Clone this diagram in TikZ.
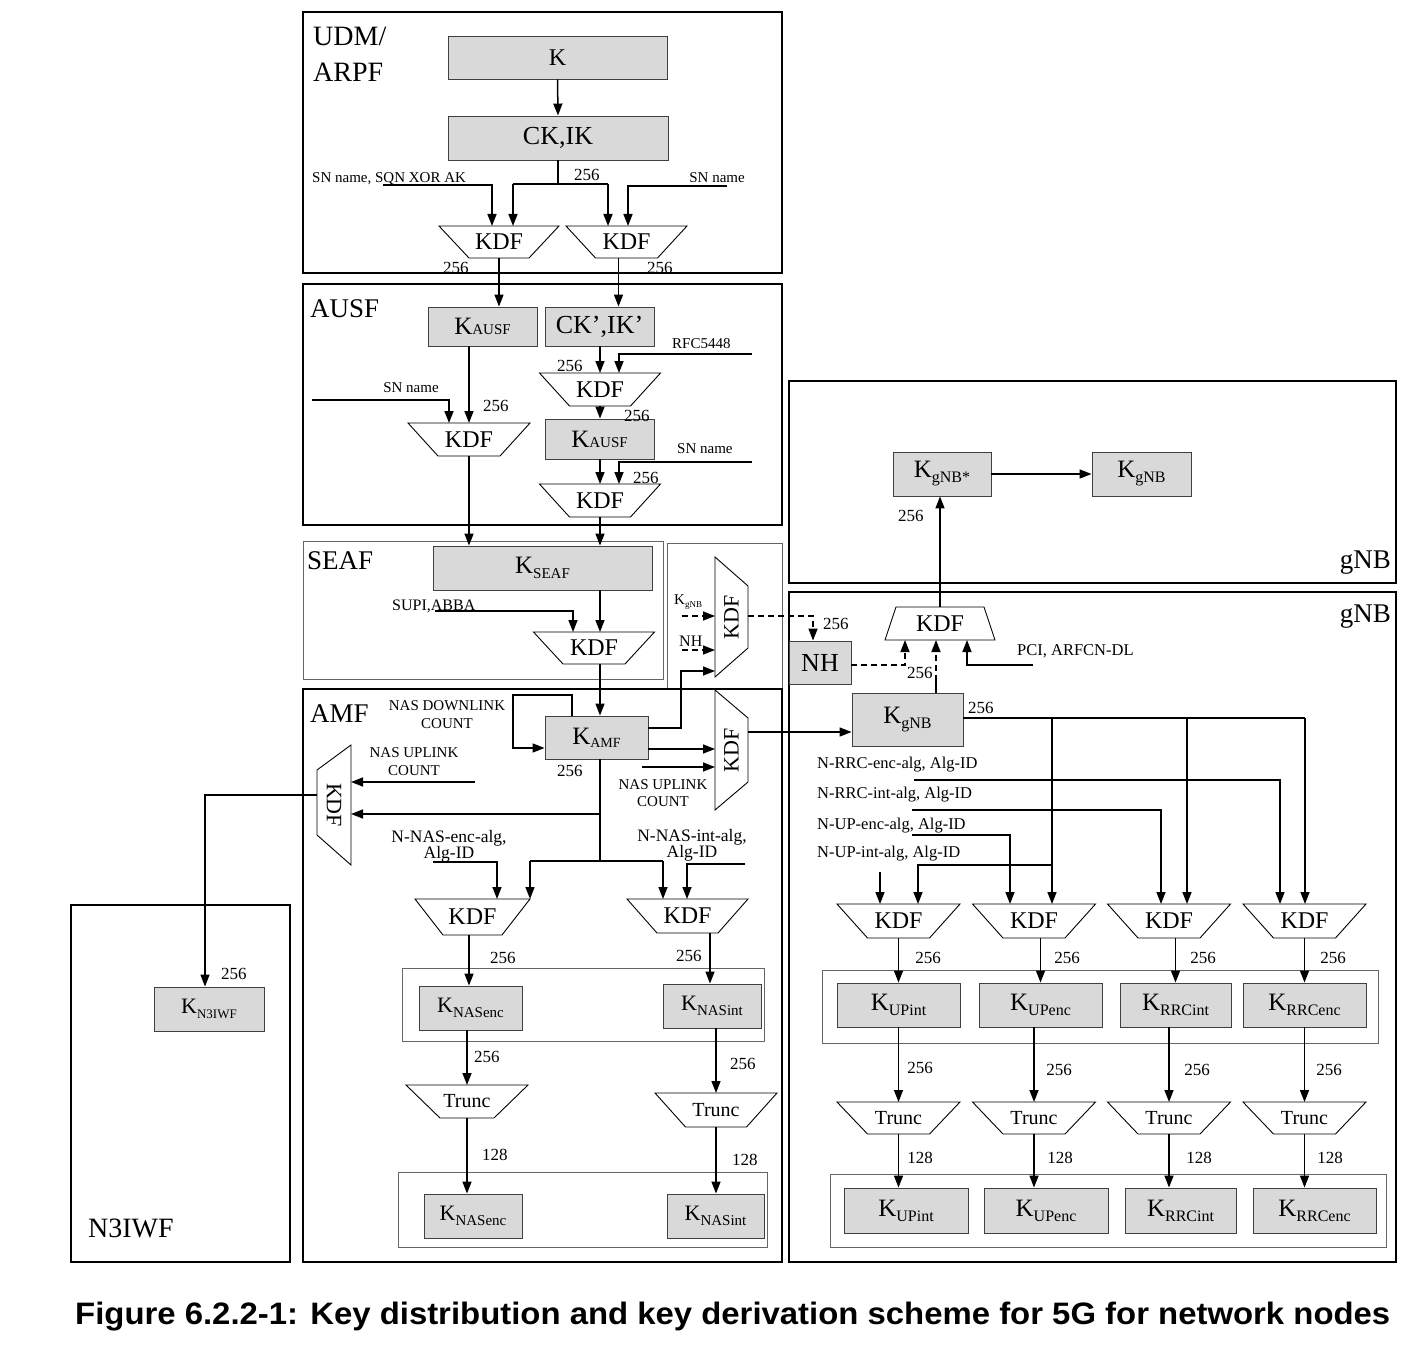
\documentclass[tikz,border=0pt]{standalone}
\usepackage{graphicx}
\usepackage{fontspec}
\setmainfont{Liberation Serif}
\newfontfamily\capfont{Liberation Sans}
\usetikzlibrary{arrows.meta}
\definecolor{keygray}{HTML}{D9D9D9}
\newcommand\ksb[2][15]{\raisebox{-5pt}{\fontsize{#1}{#1}\selectfont #2}}
\newcommand\ksc[2][15]{{\fontsize{#1}{#1}\selectfont #2}}
% name, cx, ytop, halftop, halfbottom, height, text
\newcommand\kdftrap[7]{%
  \draw[trapline] ({#2-#4},#3) -- ({#2+#4},#3) -- ({#2+#5},{#3+#6}) -- ({#2-#5},{#3+#6}) -- cycle;
  \node[kdftxt] (#1) at (#2,{#3+#6/2}) {#7};
  \coordinate (#1-t) at (#2,#3);
  \coordinate (#1-b) at (#2,{#3+#6});
}
% name, xlong, xshort, ylong1, ylong2, yshort1, yshort2, rotate
\newcommand\kdfvtrap[8]{%
  \draw[trapline] (#2,#4) -- (#3,#6) -- (#3,#7) -- (#2,#5) -- cycle;
  \node[kdftxt, font=\fontsize{22}{24}\selectfont, rotate=#8] (#1) at ({(#2+#3)/2},{(#4+#5)/2}) {KDF};
}
\tikzset{
  outer/.style={draw, line width=2.4pt},
  thinbox/.style={draw=black!60, line width=0.9pt},
  keybox/.style={draw=black!75, fill=keygray, line width=0.9pt, inner sep=0pt, font=\fontsize{25}{28}\selectfont},
  trapline/.style={draw, line width=0.9pt},
  conn/.style={line width=1.5pt},
  arr/.style={line width=1.5pt, -{Triangle[length=12pt,width=9pt]}},
  darr/.style={arr, dash pattern=on 6pt off 4pt},
  kdftxt/.style={font=\fontsize{24}{26}\selectfont, inner sep=0pt},
  trtxt/.style={font=\fontsize{20}{22}\selectfont},
  lbl/.style={font=\fontsize{15}{17}\selectfont, inner sep=0pt},
  num/.style={font=\fontsize{17}{19}\selectfont, inner sep=0pt, anchor=base west},
  algA/.style={font=\fontsize{17.5}{16}\selectfont, inner sep=0pt, anchor=north, align=center},
  algG/.style={font=\fontsize{16.5}{19}\selectfont, inner sep=0pt, anchor=base west},
  big/.style={font=\fontsize{27}{30}\selectfont, inner sep=0pt, anchor=base west},
}
\begin{document}
\begin{tikzpicture}[x=1pt,y=-1pt]
\fill[white] (0,0) rectangle (1424,1348);
\useasboundingbox (0,0) rectangle (1424,1348);

%% ---------------- UDM/ARPF ----------------
\draw[outer] (303,12) rectangle (782,273);
\node[big, font=\fontsize{28}{30}\selectfont] (udm) at (313,46) {UDM/};
\node[big, font=\fontsize{28}{30}\selectfont] (arpf) at (313,82) {ARPF};
\node[keybox, minimum width=219pt, minimum height=43pt, font=\fontsize{24}{26}\selectfont] (k) at (557.5,57.5) {K};
\node[keybox, minimum width=220pt, minimum height=44pt, font=\fontsize{26}{28}\selectfont] (ckik) at (558,138) {CK,IK};
\draw[arr] (k.south) -- (ckik.north);
\kdftrap{kdfa}{499}{226}{60}{30}{32}{KDF}
\kdftrap{kdfb}{626.5}{226}{60.5}{31}{32}{KDF}
\coordinate (j1) at (558,184);
\draw[conn] (ckik.south) -- (j1);
\draw[conn] (513,184) -- (608,184);
\draw[arr] (513,184) -- (513,226);
\draw[arr] (608,184) -- (608,226);
\node[lbl, anchor=base west] (l1) at (312,183) {SN name, SQN XOR AK};
\draw[arr] (383,185) -| (492,226);
\node[lbl, anchor=base east] (l2) at (745,183) {SN name};
\draw[arr] (727,186) -| (628,226);
\node[num] at (574,181) {256};
\node[num] at (443,274) {256};
\node[num] at (647,274) {256};

%% ---------------- AUSF ----------------
\draw[outer] (303,284) rectangle (782,525);
\node[big] at (310,317) {AUSF};
\node[keybox, minimum width=109pt, minimum height=39pt] (kausfa) at (482.5,326.5) {K\ksc{AUSF}};
\node[keybox, minimum width=109pt, minimum height=39pt, font=\fontsize{26}{28}\selectfont] (ckikp) at (599.5,326.5) {CK',IK'};
\node[keybox, minimum width=109pt, minimum height=40pt] (kausfb) at (599.5,439) {K\ksc{AUSF}};
\draw[arr] (kdfa-b) -- (kdfa-b |- kausfa.north);
\draw[arr] ([xshift=-8pt]kdfb-b) -- ([xshift=-8pt]kdfb-b |- ckikp.north);

\kdftrap{kdfc}{469}{423}{61}{31}{33}{KDF}
\draw[arr] (kdfc-t |- kausfa.south) -- (kdfc-t);
\node[lbl, anchor=base] at (411,392) {SN name};
\draw[arr] (312,400) -| (449,423);
\node[num] at (483,411) {256};

\kdftrap{kdfd}{600}{373}{60.5}{30.5}{33}{KDF}
\draw[arr] (kdfd-t |- ckikp.south) -- (kdfd-t);
\node[num] at (557,371) {256};
\node[lbl, anchor=base west] at (672,348) {RFC5448};
\draw[arr] (752,354) -| (619,373);
\draw[arr] (kdfd-b) -- (kdfd-b |- kausfb.north);
\node[num] at (624,421) {256};

\kdftrap{kdfe}{600}{484}{60.5}{30.5}{33}{KDF}
\node[lbl, anchor=base west] at (677,453) {SN name};
\draw[arr] (752,462) -| (619,484);
\draw[arr] (kdfe-t |- kausfb.south) -- (kdfe-t);
\node[num] at (633,483) {256};

%% ---------------- SEAF ----------------
\draw[thinbox] (303,541) rectangle (663,679);
\node[big] at (307,569) {SEAF};
\node[keybox, minimum width=219pt, minimum height=44pt] (kseaf) at (542.5,568) {K\ksb{SEAF}};
\draw[arr] (kdfe-b) -- (kdfe-b |- kseaf.north);
\draw[arr] (kdfc-b) -- (kdfc-b |- kseaf.north);
\kdftrap{kdff}{594}{632}{60.5}{31}{32}{KDF}
\draw[arr] ([xshift=57.5pt]kseaf.south) -- ([xshift=57.5pt]kseaf.south |- kdff-t);
\node[lbl, anchor=base west, font=\fontsize{16}{18}\selectfont] at (392,610) {SUPI,ABBA};
\draw[arr] (435,611) -| (573,632);

%% ---------------- middle KDF box ----------------
\draw[thinbox] (667,543) rectangle (782,689);
\kdfvtrap{kdfh}{715}{748}{557}{677}{586}{648}{90}
\node[lbl, anchor=base west] (lkg) at (674,604) {K\raisebox{-3pt}{\fontsize{9}{9}\selectfont gNB}};
\node[lbl, anchor=base west, font=\fontsize{16}{18}\selectfont] (lnh) at (679,646) {NH};
\draw[darr] (682,616) -- (715,616);
\draw[darr] (682,650) -- (715,650);

%% ---------------- AMF ----------------
\draw[outer] (303,689) rectangle (782,1262);
\node[big] at (310,722) {AMF};
\node[keybox, minimum width=103pt, minimum height=43pt] (kamf) at (596.5,737.5) {K\raisebox{-3pt}{\fontsize{14}{14}\selectfont AMF}};
\draw[arr] ([xshift=6pt]kdff-b) -- ([xshift=6pt]kdff-b |- kamf.north);
\draw[arr] (kamf.east |- 0,728) -- (681,728) -- (681,671) -- (715,671);

\draw[arr] ([xshift=-24.5pt]kamf.north) -- (572,695) -- (513,695) -- (513,748) -- (kamf.west |- 0,748);
\node[lbl, anchor=north, align=center, font=\fontsize{15}{18}\selectfont] at (447,700) {NAS DOWNLINK\\COUNT};
\node[num] at (557,776) {256};

\kdfvtrap{kdfi}{715}{748}{690}{810}{718}{782}{90}
\draw[arr] (kamf.east |- 0,749) -- (715,749);
\draw[arr] (642,767) -- (715,767);
\node[lbl, anchor=north, align=center, font=\fontsize{15}{17}\selectfont] at (663,779) {NAS UPLINK\\COUNT};

\kdfvtrap{kdfg}{351}{317}{745}{865}{770}{835}{-90}
\node[lbl, anchor=north, align=center, font=\fontsize{15}{18}\selectfont] at (414,747) {NAS UPLINK\\COUNT};
\draw[arr] (475,782) -- (351,782);
\coordinate (jamf) at (600,861);
\draw[conn] ([xshift=3.5pt]kamf.south) -- (jamf);
\draw[conn] (530,861) -- (663,861);
\draw[arr] (530,861) -- (530,899);
\draw[arr] (663,861) -- (663,899);
\draw[arr] (600,814) -- (351,814);

\node[algA] at (449,830) {N-NAS-enc-alg,\\Alg-ID};
\draw[arr] (433,862) -| (497,899);
\node[algA] at (692,829) {N-NAS-int-alg,\\Alg-ID};
\draw[arr] (745,864) -| (687,899);

\kdftrap{kdfj}{472.5}{899}{57.5}{29.5}{36}{KDF}
\kdftrap{kdfk}{687.5}{899}{60.5}{30.5}{34}{KDF}
\draw[thinbox] (402,968) rectangle (764,1041);
\node[keybox, minimum width=103pt, minimum height=44pt, font=\fontsize{22}{24}\selectfont] (knasenca) at (470.5,1008) {K\ksb[15]{NASenc}};
\node[keybox, minimum width=98pt, minimum height=44pt, font=\fontsize{22}{24}\selectfont] (knasinta) at (712,1006) {K\ksb[15]{NASint}};
\draw[arr] ([xshift=-3.5pt]kdfj-b) -- ([xshift=-3.5pt]kdfj-b |- knasenca.north);
\draw[arr] ([xshift=22.5pt]kdfk-b) -- ([xshift=22.5pt]kdfk-b |- knasinta.north);
\node[num] at (490,963) {256};
\node[num] at (676,961) {256};

\kdftrap{trl}{467}{1085}{61}{27}{33}{\fontsize{20}{22}\selectfont Trunc}
\kdftrap{trr}{716}{1093}{61}{30.5}{34}{\fontsize{20}{22}\selectfont Trunc}
\draw[arr] (knasenca.south -| trl-t) -- (trl-t);
\draw[arr] (knasinta.south -| trr-t) -- (trr-t);
\node[num] at (474,1062) {256};
\node[num] at (730,1069) {256};
\draw[thinbox] (398,1172) rectangle (767,1247);
\node[keybox, minimum width=98pt, minimum height=44pt, font=\fontsize{22}{24}\selectfont] (knasencb) at (473,1216) {K\ksb[15]{NASenc}};
\node[keybox, minimum width=97pt, minimum height=44pt, font=\fontsize{22}{24}\selectfont] (knasintb) at (715.5,1216) {K\ksb[15]{NASint}};
\draw[arr] (trl-b) -- (trl-b |- knasencb.north);
\draw[arr] (trr-b) -- (trr-b |- knasintb.north);
\node[num] at (482,1160) {128};
\node[num] at (732,1165) {128};

%% ---------------- N3IWF ----------------
\draw[outer] (71,905) rectangle (290,1262);
\node[big, font=\fontsize{28}{30}\selectfont] at (88,1237) {N3IWF};
\node[keybox, minimum width=110pt, minimum height=44pt, font=\fontsize{22}{24}\selectfont] (kn3) at (209,1009) {K\ksb[13]{N3IWF}};
\draw[arr] (317,795) -- (205,795) -- (kn3.north -| 205,0);
\node[num] at (221,979) {256};

%% ---------------- gNB (top) ----------------
\draw[outer] (789,381) rectangle (1396,583);
\node[big, anchor=base east] at (1391,568) {gNB};
\node[keybox, minimum width=98pt, minimum height=44pt] (kgnbs) at (942,474) {K\ksb[16]{gNB*}};
\node[keybox, minimum width=99pt, minimum height=44pt] (kgnbt) at (1141.5,474) {K\ksb[16]{gNB}};
\draw[arr] (kgnbs) -- (kgnbt);
\node[num] at (898,521) {256};

%% ---------------- gNB (bottom) ----------------
\draw[outer] (789,592) rectangle (1396,1262);
\node[big, anchor=base east] at (1391,622) {gNB};
\kdftrap{kdfu}{940}{607}{44}{55}{33}{KDF}
\draw[arr] (kdfu-t) -- (kdfu-t |- kgnbs.south);
\node[keybox, minimum width=62pt, minimum height=43pt, font=\fontsize{26}{28}\selectfont] (knh) at (820,662.5) {NH};
\node[keybox, minimum width=111pt, minimum height=53pt] (kgnb) at (907.5,719.5) {K\ksb[16]{gNB}};
\draw[darr] (748,616) -| ([xshift=-7pt]knh.north);
\node[num] at (823,629) {256};
\draw[arr] (748,732) -- (kgnb.west |- 0,732);
\draw[darr] (knh.east |- 0,665) -| (905,640);
\node[num] at (907,678) {256};
\draw[conn] (kgnb.north -| 936,0) -- (936,681);
\draw[darr] (936,681) -- (936,640);
\draw[arr] (1033,665) -| (967,640);
\node[lbl, anchor=base west, font=\fontsize{16.5}{18}\selectfont] at (1017,655) {PCI, ARFCN-DL};
\node[num] at (968,713) {256};

\draw[conn] (kgnb.east |- 0,718) -- (1305,718);
\draw[arr] (1052,718) -- (1052,904);
\draw[arr] (1187,718) -- (1187,904);
\draw[arr] (1305,718) -- (1305,904);
\node[algG] at (817,768) {N-RRC-enc-alg, Alg-ID};
\draw[arr] (914,780) -| (1280,904);
\node[algG] at (817,798) {N-RRC-int-alg, Alg-ID};
\draw[arr] (912,810) -| (1161,904);
\node[algG] at (817,829) {N-UP-enc-alg, Alg-ID};
\draw[arr] (912,835) -| (1010,904);
\node[algG] at (817,857) {N-UP-int-alg, Alg-ID};
\draw[arr] (1052,865) -| (918,904);
\draw[arr] (880,872) -- (880,904);

\kdftrap{kdf1}{898.5}{904}{61.5}{31}{34}{KDF}
\kdftrap{kdf2}{1034}{904}{61.5}{31}{34}{KDF}
\kdftrap{kdf3}{1169}{904}{61.5}{31}{34}{KDF}
\kdftrap{kdf4}{1304.5}{904}{61.5}{31}{34}{KDF}
\draw[thinbox] (822,970) rectangle (1378,1043);
\node[keybox, minimum width=123pt, minimum height=44pt] (ku1) at (898.5,1005) {K\ksb[16]{UPint}};
\node[keybox, minimum width=123pt, minimum height=44pt] (ku2) at (1040.5,1005) {K\ksb[16]{UPenc}};
\node[keybox, minimum width=111pt, minimum height=44pt] (kr1) at (1175.5,1005) {K\ksb[16]{RRCint}};
\node[keybox, minimum width=123pt, minimum height=44pt] (kr2) at (1304.5,1005) {K\ksb[16]{RRCenc}};
\draw[arr] (kdf1-b) -- (kdf1-b |- ku1.north);
\draw[arr] (ku2.north |- kdf2-b) -- (ku2.north);
\draw[arr] (kr1.north |- kdf3-b) -- (kr1.north);
\draw[arr] (kdf4-b) -- (kdf4-b |- kr2.north);
\node[num, anchor=base] at (928,963) {256};
\node[num, anchor=base] at (1067,963) {256};
\node[num, anchor=base] at (1203,963) {256};
\node[num, anchor=base] at (1333,963) {256};

\kdftrap{tr1}{898.5}{1102}{61.5}{31}{32}{\fontsize{20}{22}\selectfont Trunc}
\kdftrap{tr2}{1034}{1102}{61.5}{31}{32}{\fontsize{20}{22}\selectfont Trunc}
\kdftrap{tr3}{1169}{1102}{61.5}{31}{32}{\fontsize{20}{22}\selectfont Trunc}
\kdftrap{tr4}{1304.5}{1102}{61.5}{31}{32}{\fontsize{20}{22}\selectfont Trunc}
\draw[arr] (tr1-t |- ku1.south) -- (tr1-t);
\draw[arr] (tr2-t |- ku2.south) -- (tr2-t);
\draw[arr] (tr3-t |- kr1.south) -- (tr3-t);
\draw[arr] (tr4-t |- kr2.south) -- (tr4-t);
\node[num, anchor=base] at (920,1073) {256};
\node[num, anchor=base] at (1059,1075) {256};
\node[num, anchor=base] at (1197,1075) {256};
\node[num, anchor=base] at (1329,1075) {256};

\draw[thinbox] (830,1174) rectangle (1386,1247);
\node[keybox, minimum width=124pt, minimum height=45pt] (ku1b) at (906,1210.5) {K\ksb[16]{UPint}};
\node[keybox, minimum width=124pt, minimum height=45pt] (ku2b) at (1046,1210.5) {K\ksb[16]{UPenc}};
\node[keybox, minimum width=111pt, minimum height=45pt] (kr1b) at (1180.5,1210.5) {K\ksb[16]{RRCint}};
\node[keybox, minimum width=123pt, minimum height=45pt] (kr2b) at (1314.5,1210.5) {K\ksb[16]{RRCenc}};
\draw[arr] (tr1-b) -- (tr1-b |- ku1b.north);
\draw[arr] (tr2-b) -- (tr2-b |- ku2b.north);
\draw[arr] (tr3-b) -- (tr3-b |- kr1b.north);
\draw[arr] (tr4-b) -- (tr4-b |- kr2b.north);
\node[num, anchor=base] at (920,1163) {128};
\node[num, anchor=base] at (1060,1163) {128};
\node[num, anchor=base] at (1199,1163) {128};
\node[num, anchor=base] at (1330,1163) {128};

%% ---------------- caption ----------------
\node[anchor=base west, inner sep=0pt] (cap) at (75,1324) {\resizebox{1315pt}{\height}{\fontsize{31}{33}\capfont\bfseries Figure 6.2.2-1: Key distribution and key derivation scheme for 5G for network nodes}};
\end{tikzpicture}
\end{document}
